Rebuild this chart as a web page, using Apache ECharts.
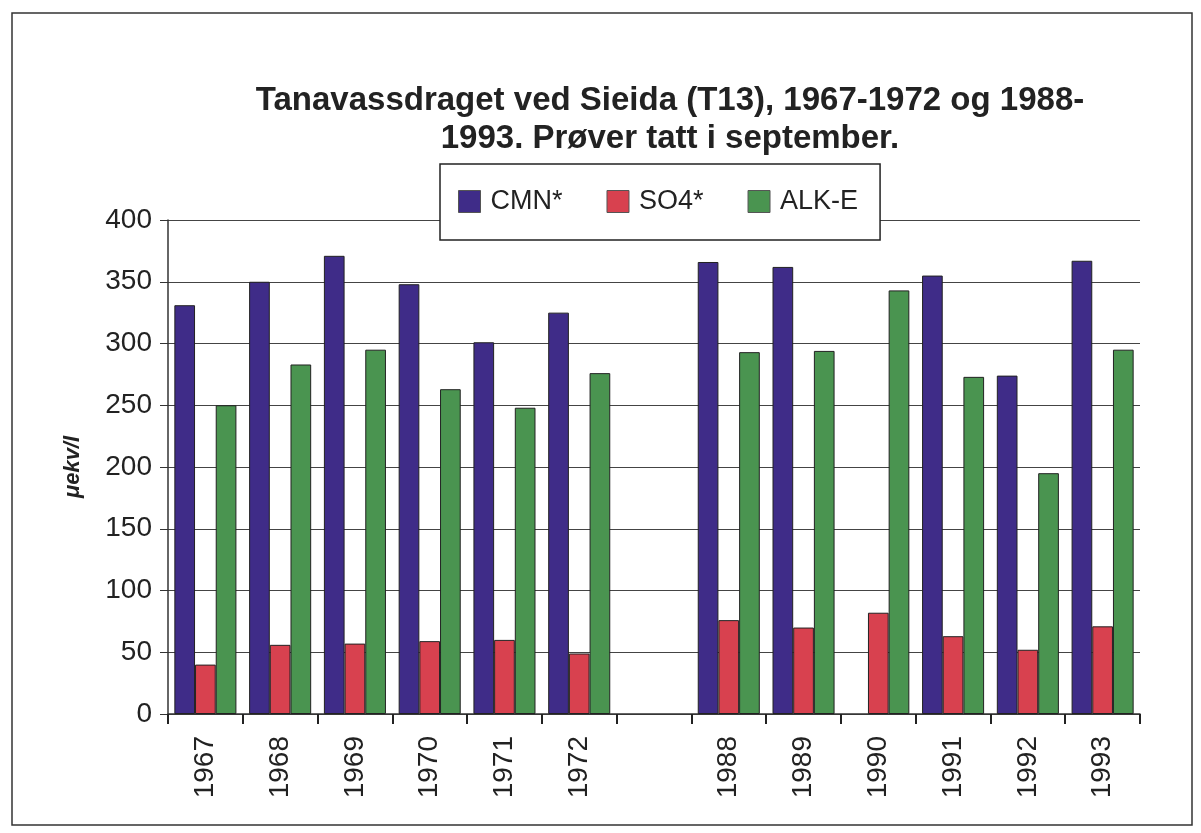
<!DOCTYPE html>
<html>
<head>
<meta charset="utf-8">
<script src="https://cdn.jsdelivr.net/npm/echarts@6/dist/echarts.min.js"></script>
<style>
html,body{margin:0;padding:0;background:#fff;}
#chart{width:1201px;height:833px;}
</style>
</head>
<body>
<div id="chart"></div>
<script>
// one empty slot between the two periods
var years = ['1967', '1968', '1969', '1970', '1971', '1972', '', '1988', '1989', '1990', '1991', '1992', '1993'];
var cmn = [331, 350, 371, 348, 301, 325, '-', 366, 362, '-', 355, 274, 367];
var so4 = [40, 56, 57, 59, 60, 49, '-', 76, 70, 82, 63, 52, 71];
var alk = [250, 283, 295, 263, 248, 276, '-', 293, 294, 343, 273, 195, 295];
var yTicks = [0, 50, 100, 150, 200, 250, 300, 350, 400];

window.onload = function () {
    var chart = echarts.init(document.getElementById('chart'));
    var font = "'Liberation Sans', Arial, sans-serif";
    var bar = function (name, data, color) {
        return {
            name: name,
            type: 'bar',
            data: data,
            barGap: '0%',
            barCategoryGap: '17%',
            itemStyle: { color: color, borderColor: '#222', borderWidth: 1 }
        };
    };
    var legendItem = function (name) {
        return { name: name, icon: 'rect', itemStyle: { borderColor: '#555', borderWidth: 1 } };
    };
    chart.setOption({
        backgroundColor: '#fff',
        animation: false,
        title: {
            text: 'Tanavassdraget ved Sieida (T13), 1967-1972 og 1988-\n1993. Prøver tatt i september.',
            left: 665,
            top: 77,
            textAlign: 'center',
            textStyle: {
                fontFamily: "'Liberation Sans Narrow', " + font,
                fontWeight: 'bold',
                fontSize: 33,
                lineHeight: 38,
                color: '#222'
            }
        },
        legend: {
            left: 440,
            top: 164,
            padding: [24, 22, 25, 18],
            itemGap: 44,
            itemWidth: 22,
            itemHeight: 22,
            backgroundColor: '#fff',
            borderColor: '#222',
            borderWidth: 1.5,
            z: 10,
            textStyle: { fontFamily: font, fontSize: 27, color: '#222', padding: [0, 0, 0, 5] },
            data: [legendItem('CMN*'), legendItem('SO4*'), legendItem('ALK-E')]
        },
        grid: { left: 168, right: 61, top: 220, bottom: 119 },
        xAxis: {
            type: 'category',
            data: years,
            axisLine: { lineStyle: { color: '#333', width: 1.5 } },
            axisTick: { show: true, length: 10, lineStyle: { color: '#222', width: 2 } },
            axisLabel: {
                rotate: 90,
                margin: 22,
                fontFamily: font,
                fontSize: 28,
                color: '#222'
            }
        },
        yAxis: {
            type: 'value',
            min: 0,
            max: 400,
            interval: 50,
            name: 'μekv/l',
            nameLocation: 'middle',
            nameGap: 84,
            nameRotate: 90,
            nameTextStyle: { fontFamily: font, fontWeight: 'bold', fontStyle: 'italic', fontSize: 22, color: '#222' },
            axisLine: { show: true, lineStyle: { color: '#333', width: 1.5 } },
            axisTick: { show: true, length: 8, lineStyle: { color: '#333' } },
            axisLabel: {
                margin: 16,
                fontFamily: font,
                fontSize: 28,
                color: '#222',
                formatter: function (v) { return yTicks.indexOf(v) >= 0 ? String(v) : ''; }
            },
            splitLine: { lineStyle: { color: '#444', width: 1.2 } }
        },
        series: [
            bar('CMN*', cmn, '#3f2c88'),
            bar('SO4*', so4, '#d8414f'),
            bar('ALK-E', alk, '#4a9450')
        ],
        graphic: [{
            type: 'rect',
            shape: { x: 12, y: 13, width: 1180, height: 812 },
            style: { fill: 'none', stroke: '#333', lineWidth: 1.5 },
            silent: true
        }]
    });
};
</script>
</body>
</html>
